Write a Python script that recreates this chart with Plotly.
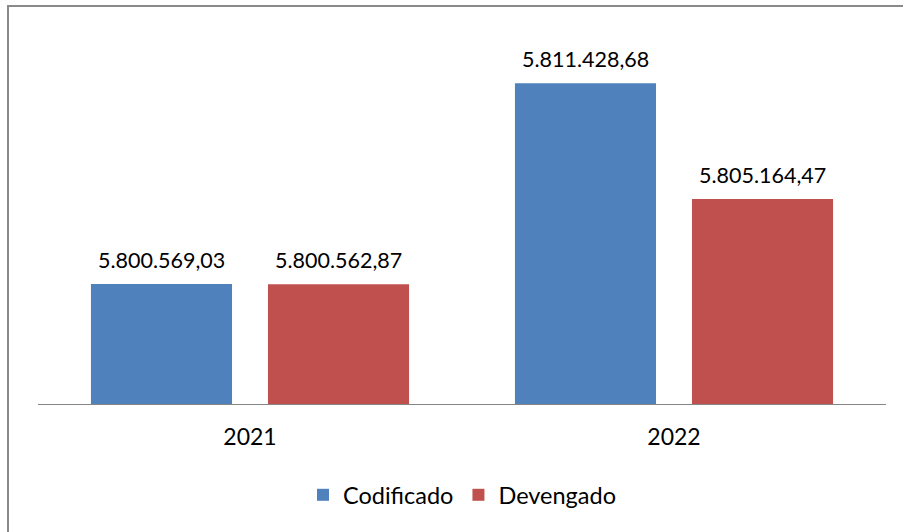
import plotly.graph_objects as go

years = ["2021", "2022"]
codificado = [5800569.03, 5811428.68]
devengado = [5800562.87, 5805164.47]
series_names = ["Codificado", "Devengado"]
colors = ["#4F81BD", "#C0504D"]

FONT = "Lato, Carlito, Calibri, sans-serif"
BARGAP = 0.165
BARGROUPGAP = 0.203


def fmt(v):
    s = f"{v:,.2f}"
    return s.replace(",", "X").replace(".", ",").replace("X", ".")


xs = list(range(len(years)))
fig = go.Figure()
for name, vals, col in zip(series_names, [codificado, devengado], colors):
    fig.add_trace(go.Bar(x=xs, y=vals, name=name, marker=dict(color=col, line=dict(width=0))))

# label offsets derived from bar grouping geometry
slot = (1 - BARGAP) / 2
offsets = [-slot / 2, slot / 2]
for vals, off in zip([codificado, devengado], offsets):
    for i, v in enumerate(vals):
        fig.add_annotation(x=i + off, y=v, xref="x", yref="y", text=fmt(v),
                           showarrow=False, yanchor="bottom", yshift=9,
                           font=dict(family=FONT, size=21.5, color="#000000"))

fig.add_shape(type="rect", xref="paper", yref="paper",
              x0=(8 - 38) / 848, x1=1.2, y0=(404 - 6) / 370, y1=-0.6,
              line=dict(color="#8a8a8a", width=2), fillcolor="rgba(0,0,0,0)", layer="below")

fig.update_layout(
    width=903, height=532,
    margin=dict(l=38, r=17, t=34, b=128),
    paper_bgcolor="white", plot_bgcolor="white",
    barmode="group", bargap=BARGAP, bargroupgap=BARGROUPGAP,
    font=dict(family=FONT, size=21.5, color="#000000"),
    showlegend=True,
    legend=dict(orientation="h", x=0.5, xanchor="center", y=-0.246, yanchor="middle",
                font=dict(family=FONT, size=23.5, color="#000000"), itemwidth=30),
    xaxis=dict(tickvals=xs, ticktext=years, range=[-0.5, 1.5], showline=True,
               linecolor="#868686", linewidth=1, ticks="", showgrid=False, zeroline=False,
               ticklabelstandoff=12,
               tickfont=dict(family=FONT, size=23, color="#000000")),
    yaxis=dict(range=[5794086, 5814086], visible=False, showgrid=False, zeroline=False),
)

fig.write_html("out.html", config={"displayModeBar": False},
               post_script="document.body.style.margin='0';document.body.style.padding='0';")
